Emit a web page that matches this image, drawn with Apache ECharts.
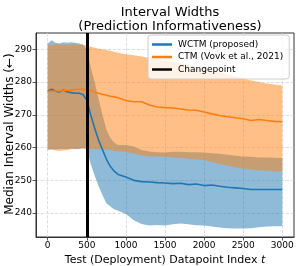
<!DOCTYPE html>
<html>
<head>
<meta charset="utf-8">
<script src="https://cdn.jsdelivr.net/npm/echarts@6/dist/echarts.min.js"></script>
<style>html,body{margin:0;padding:0;background:#fff}#c{width:299px;height:266px}</style>
</head>
<body>
<div id="c"></div>
<script>
// Test datapoint index t
const T = [0,50,100,150,200,250,300,350,400,450,500,550,600,650,700,750,800,850,900,1000,1100,1200,1300,1400,1500,1600,1700,1800,1900,2000,2100,2200,2300,2400,2500,2600,2700,2800,2900,3000];
// WCTM (proposed): median, upper, lower interval widths
const wctmMed = [277.3,277.8,277.2,277.0,277.6,277.0,276.8,276.6,276.6,276.2,274.5,270.0,266.0,262.3,259.4,256.5,254.3,252.8,251.8,251.0,250.0,249.6,249.5,249.3,249.2,249.0,249.1,248.7,248.9,248.4,248.6,248.2,247.9,247.7,247.5,247.2,247.2,247.2,247.2,247.2];
const wctmHi  = [291.8,292.8,292.0,291.8,292.2,292.0,292.2,292.0,291.8,291.5,290.0,284.5,280.0,275.0,270.0,265.5,263.0,261.5,260.8,260.8,260.3,259.3,258.8,258.6,258.5,258.7,258.7,258.6,258.6,258.5,258.3,258.1,257.8,257.5,257.3,257.2,257.0,257.0,256.9,256.8];
const wctmLo  = [259.3,259.5,259.4,259.6,259.6,259.5,259.7,259.6,259.6,259.8,259.5,255.0,251.5,248.3,245.5,243.0,242.0,241.2,240.7,239.7,237.8,236.7,236.2,236.4,236.2,236.6,236.8,236.6,236.3,236.2,235.9,235.6,235.4,235.3,235.3,235.4,235.7,235.9,236.0,236.0];
// CTM (Vovk et al., 2021): median, upper, lower interval widths
const ctmMed = [277.2,277.2,277.3,277.3,277.4,277.5,277.6,277.7,277.8,277.8,277.7,277.4,277.0,276.6,276.3,276.0,275.7,275.5,275.2,274.4,274.0,274.0,273.0,272.4,272.2,272.1,271.8,271.5,271.4,270.9,270.3,269.8,269.4,269.1,268.8,268.3,268.6,268.3,268.0,267.9];
const ctmHi  = [291.5,291.4,291.6,291.5,291.4,291.5,291.6,291.5,291.4,291.4,291.2,290.8,290.5,290.2,290.0,289.8,289.6,289.3,289.0,288.5,288.2,287.8,287.4,287.0,286.7,286.2,285.7,285.2,284.7,284.2,283.6,283.1,282.4,281.7,281.1,280.5,280.0,279.6,279.3,279.0];
const ctmLo  = [259.6,259.4,259.2,259.0,259.1,259.3,259.5,259.6,259.7,259.7,259.7,259.6,259.6,259.5,259.4,259.3,259.2,259.0,258.9,258.6,258.2,257.6,257.3,257.3,257.2,257.0,256.8,256.6,256.4,256.2,255.6,255.0,254.5,254.0,253.6,253.3,253.1,252.9,252.7,252.6];
// Changepoint
const changepoint = 500;
// Tick labels
const xTicks = [0,500,1000,1500,2000,2500,3000];
const yTicks = [240,250,260,270,280,290];
const yTitle = 'Median Interval Widths (\u2190)';

const FONT = 'DejaVu Sans';
const chart = echarts.init(document.getElementById('c'), null, {renderer:'canvas'});

function band(name, lo, hi, fill){
  return {
    type:'custom', name: name, silent:true, z:1,
    data:[[T[0], lo[0]]],
    renderItem: function(params, api){
      const pts = [];
      for (let i=0;i<T.length;i++) pts.push(api.coord([T[i], hi[i]]));
      for (let i=T.length-1;i>=0;i--) pts.push(api.coord([T[i], lo[i]]));
      return {type:'polygon', shape:{points:pts}, style:{fill:fill, stroke:null}};
    }
  };
}
function line(name, vals, color){
  return {
    type:'line', name:name, z:3, symbol:'none', showSymbol:false, smooth:false,
    data: T.map((t,i)=>[t, vals[i]]),
    lineStyle:{color:color, width:1.6}, itemStyle:{color:color}, animation:false
  };
}

const axisCommon = {
  axisLine:{show:true, onZero:false, lineStyle:{color:'#333', width:1}},
  axisTick:{show:true, inside:false, length:3.5, lineStyle:{color:'#333', width:0.8}},
  splitLine:{show:true, lineStyle:{color:'#d6d6d6', width:0.8, type:'dashed'}}
};

chart.setOption({
  animation:false,
  backgroundColor:'#fff',
  title:{
    text:'Interval Widths\n(Prediction Informativeness)',
    left:165, top:1, textAlign:'center',
    textStyle:{fontFamily:FONT, fontSize:13, fontWeight:'normal', color:'#000', lineHeight:14}
  },
  grid:{left:36, right:5, top:33, bottom:29, containLabel:false, outerBoundsMode:'none',
        show:true, borderColor:'#333', borderWidth:1, backgroundColor:'transparent'},
  legend:{
    orient:'vertical', left:148, top:35, itemWidth:20, itemHeight:2.5, itemGap:3.5,
    padding:[5,6,5,4], backgroundColor:'rgba(255,255,255,0.8)', borderColor:'#cccccc', borderWidth:1, borderRadius:3,
    textStyle:{fontFamily:FONT, fontSize:9, color:'#000', padding:[0,0,0,1]},
    data:[
      {name:'WCTM (proposed)', icon:'rect'},
      {name:'CTM (Vovk et al., 2021)', icon:'rect'},
      {name:'Changepoint', icon:'rect'}
    ]
  },
  graphic:[{
    type:'text', x:10, y:134, rotation:Math.PI/2, z:10,
    style:{text:yTitle, fontFamily:FONT, fontSize:12, fill:'#000', align:'center', verticalAlign:'middle'}
  }],
  xAxis:Object.assign({}, axisCommon, {
    type:'value', min:-150, max:3150, splitNumber:6,
    axisTick:Object.assign({}, axisCommon.axisTick, {customValues:xTicks}),
    axisLabel:{customValues:xTicks, formatter:v=>String(v), fontFamily:FONT, fontSize:9, color:'#000', margin:4},
    name:'Test (Deployment) Datapoint Index {i|t}', nameLocation:'middle', nameGap:9,
    nameTextStyle:{fontFamily:FONT, fontSize:11, color:'#000', rich:{i:{fontFamily:FONT, fontSize:11, fontStyle:'italic', color:'#000'}}}
  }),
  yAxis:Object.assign({}, axisCommon, {
    type:'value', min:232.7, max:295, splitNumber:6,
    axisTick:Object.assign({}, axisCommon.axisTick, {customValues:yTicks}),
    axisLabel:{customValues:yTicks, formatter:v=>String(v), fontFamily:FONT, fontSize:9, color:'#000', margin:4}
  }),
  series:[
    band('wctmBand', wctmLo, wctmHi, 'rgba(31,119,180,0.5)'),
    band('ctmBand', ctmLo, ctmHi, 'rgba(255,127,14,0.5)'),
    line('WCTM (proposed)', wctmMed, '#1f77b4'),
    line('CTM (Vovk et al., 2021)', ctmMed, '#ff7f0e'),
    {
      type:'line', name:'Changepoint', z:4, symbol:'none', data:[],
      lineStyle:{color:'#000', width:3}, itemStyle:{color:'#000'},
      markLine:{silent:true, symbol:['none','none'], label:{show:false},
        lineStyle:{color:'#000', width:3, type:'solid'},
        data:[{xAxis:changepoint}]}
    }
  ]
});
</script>
</body>
</html>
